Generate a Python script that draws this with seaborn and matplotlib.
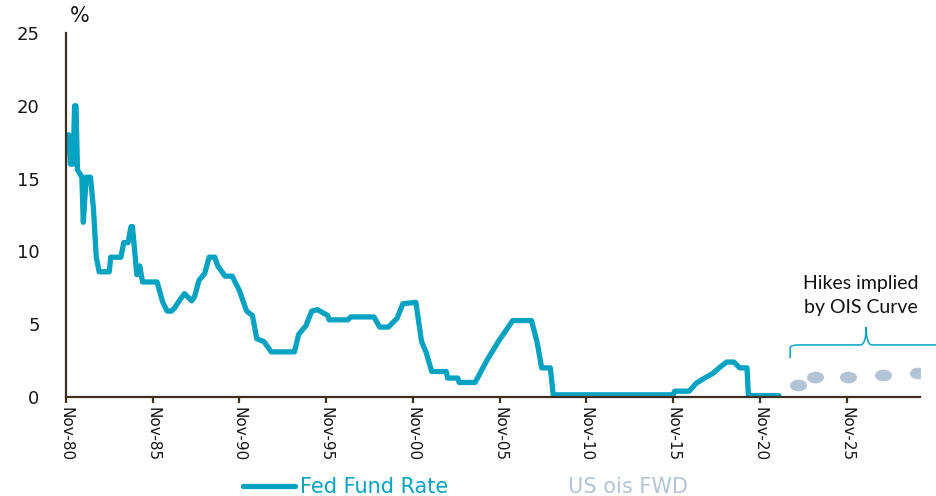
import matplotlib
matplotlib.use("Agg")
import matplotlib.pyplot as plt
from matplotlib.path import Path
from matplotlib.patches import PathPatch
from matplotlib.lines import Line2D
import seaborn as sns
import numpy as np
import pandas as pd

# Fed funds rate, vertices (month, %)
fed_dates = [
    "1980-11", "1981-01", "1981-02", "1981-04", "1981-05", "1981-06", "1981-07",
    "1981-10", "1981-11", "1982-01", "1982-04", "1982-06", "1982-08", "1982-10",
    "1983-05", "1983-06", "1984-01", "1984-03", "1984-06", "1984-08", "1984-09",
    "1984-12", "1985-02", "1985-04", "1986-02", "1986-06", "1986-09", "1986-12",
    "1987-02", "1987-06", "1987-09", "1988-02", "1988-04", "1988-07", "1988-11",
    "1989-02", "1989-06", "1989-08", "1990-01", "1990-06", "1990-11", "1991-04",
    "1991-08", "1991-11", "1992-04", "1992-09", "1994-01", "1994-04", "1994-09",
    "1995-01", "1995-05", "1995-12", "1996-01", "1997-02", "1997-04", "1998-08",
    "1998-12", "1999-06", "1999-12", "2000-04", "2001-01", "2001-05", "2001-08",
    "2001-12", "2002-10", "2002-11", "2003-06", "2003-07", "2004-06", "2005-02",
    "2005-10", "2006-08", "2007-09", "2008-01", "2008-04", "2008-10", "2008-12",
    "2015-11", "2015-12", "2016-10", "2017-03", "2017-07", "2018-02", "2018-08",
    "2018-12", "2019-05", "2019-09", "2020-02", "2020-03", "2021-12",
]
fed_values = [
    18.0, 18.0, 16.0, 16.0, 20.0, 20.0, 15.6,
    15.1, 12.0, 15.1, 15.1, 13.0, 9.6, 8.6,
    8.6, 9.6, 9.6, 10.6, 10.6, 11.7, 11.7,
    8.4, 9.0, 7.9, 7.9, 6.5, 5.9, 5.9,
    6.1, 6.7, 7.1, 6.6, 6.9, 8.0, 8.5,
    9.6, 9.6, 9.0, 8.3, 8.3, 7.3, 5.9,
    5.6, 4.0, 3.8, 3.1, 3.1, 4.3, 4.9,
    5.9, 6.0, 5.6, 5.3, 5.3, 5.5, 5.5,
    4.8, 4.8, 5.4, 6.4, 6.5, 3.8, 3.1,
    1.75, 1.75, 1.3, 1.3, 1.0, 1.0, 2.5,
    3.8, 5.25, 5.25, 3.7, 2.0, 2.0, 0.15,
    0.15, 0.4, 0.4, 0.95, 1.2, 1.6, 2.1,
    2.4, 2.4, 2.0, 2.0, 0.1, 0.1,
]

# US OIS forward points
ois_dates = ["2023-01", "2024-01", "2025-12", "2027-12", "2029-12"]
ois_values = [0.82, 1.37, 1.37, 1.5, 1.65]

tick_years = [1980, 1985, 1990, 1995, 2000, 2005, 2010, 2015, 2020, 2025]
tick_labels = ["Nov-80", "Nov-85", "Nov-90", "Nov-95", "Nov-00",
               "Nov-05", "Nov-10", "Nov-15", "Nov-20", "Nov-25"]

fed = pd.DataFrame({"date": pd.to_datetime(fed_dates), "rate": fed_values})
ois = pd.DataFrame({"date": pd.to_datetime(ois_dates), "rate": ois_values})

teal = "#05a3c1"
ois_col = "#b3c4d6"
spine_col = "#3a2f20"

sns.set_style("white")
plt.rcParams["font.family"] = ["DejaVu Sans"]

fig = plt.figure(figsize=(9.37, 4.96), dpi=100)
ax = fig.add_axes([0.0704, 0.1996, 0.9114, 0.7339])

sns.lineplot(data=fed, x="date", y="rate", ax=ax, color=teal, linewidth=3.8,
             label="Fed Fund Rate", legend=False)

t = np.linspace(0, 2 * np.pi, 40)
ellipse = Path(np.column_stack([1.45 * np.cos(t), np.sin(t)]))
sns.scatterplot(data=ois, x="date", y="rate", ax=ax, color=ois_col,
                marker=ellipse, s=150, linewidth=0, legend=False, zorder=3)

ax.set_xlim(pd.Timestamp("1980-11-01"), pd.Timestamp("2030-01-20"))
ax.set_ylim(0, 25)
ax.set_yticks([0, 5, 10, 15, 20, 25])
ax.set_xticks([pd.Timestamp(f"{y}-11-01") for y in tick_years])
ax.set_xticklabels(tick_labels, rotation=270, fontsize=11, color="#151515")
ax.tick_params(axis="y", length=0, pad=19, labelsize=13, labelcolor="#151515")
ax.tick_params(axis="x", length=4, width=1.6, color=spine_col, pad=3,
               direction="out", bottom=True)
ax.set_xlabel("")
ax.set_ylabel("")

for side in ["top", "right"]:
    ax.spines[side].set_visible(False)
for side in ["left", "bottom"]:
    ax.spines[side].set_color(spine_col)
    ax.spines[side].set_linewidth(1.6)

ax.text(0.005, 1.02, "%", transform=ax.transAxes, fontsize=15,
        ha="left", va="bottom", color="#151515")

# brace over the OIS forward points
verts = [
    (0.848, 0.107), (0.848, 0.135), (0.848, 0.143), (0.858, 0.143),
    (0.930, 0.143), (0.937, 0.143), (0.937, 0.192),
    (0.937, 0.143), (0.944, 0.143), (1.03, 0.143),
]
codes = [Path.MOVETO, Path.LINETO, Path.CURVE3, Path.CURVE3,
         Path.LINETO, Path.CURVE3, Path.CURVE3,
         Path.CURVE3, Path.CURVE3, Path.LINETO]
brace = PathPatch(Path(verts, codes), transform=ax.transAxes, fill=False,
                  edgecolor=teal, linewidth=1.1, clip_on=False)
ax.add_patch(brace)

ax.text(0.931, 0.28, "Hikes implied\nby OIS Curve", transform=ax.transAxes,
        ha="center", va="center", fontsize=14, family=["Lato", "DejaVu Sans"],
        color="#111111", linespacing=1.5)

handles = [Line2D([], [], color=teal, linewidth=3.8),
           Line2D([], [], linestyle="none", marker="none")]
leg = fig.legend(handles, ["Fed Fund Rate", "US ois FWD"], loc="center left",
                 bbox_to_anchor=(0.259, 0.018), ncol=2, frameon=False,
                 fontsize=15, handlelength=2.5, handletextpad=0.25,
                 columnspacing=3.0, borderpad=0, borderaxespad=0)
for txt, c in zip(leg.get_texts(), [teal, ois_col]):
    txt.set_color(c)

fig.savefig("out.png", dpi=100)
